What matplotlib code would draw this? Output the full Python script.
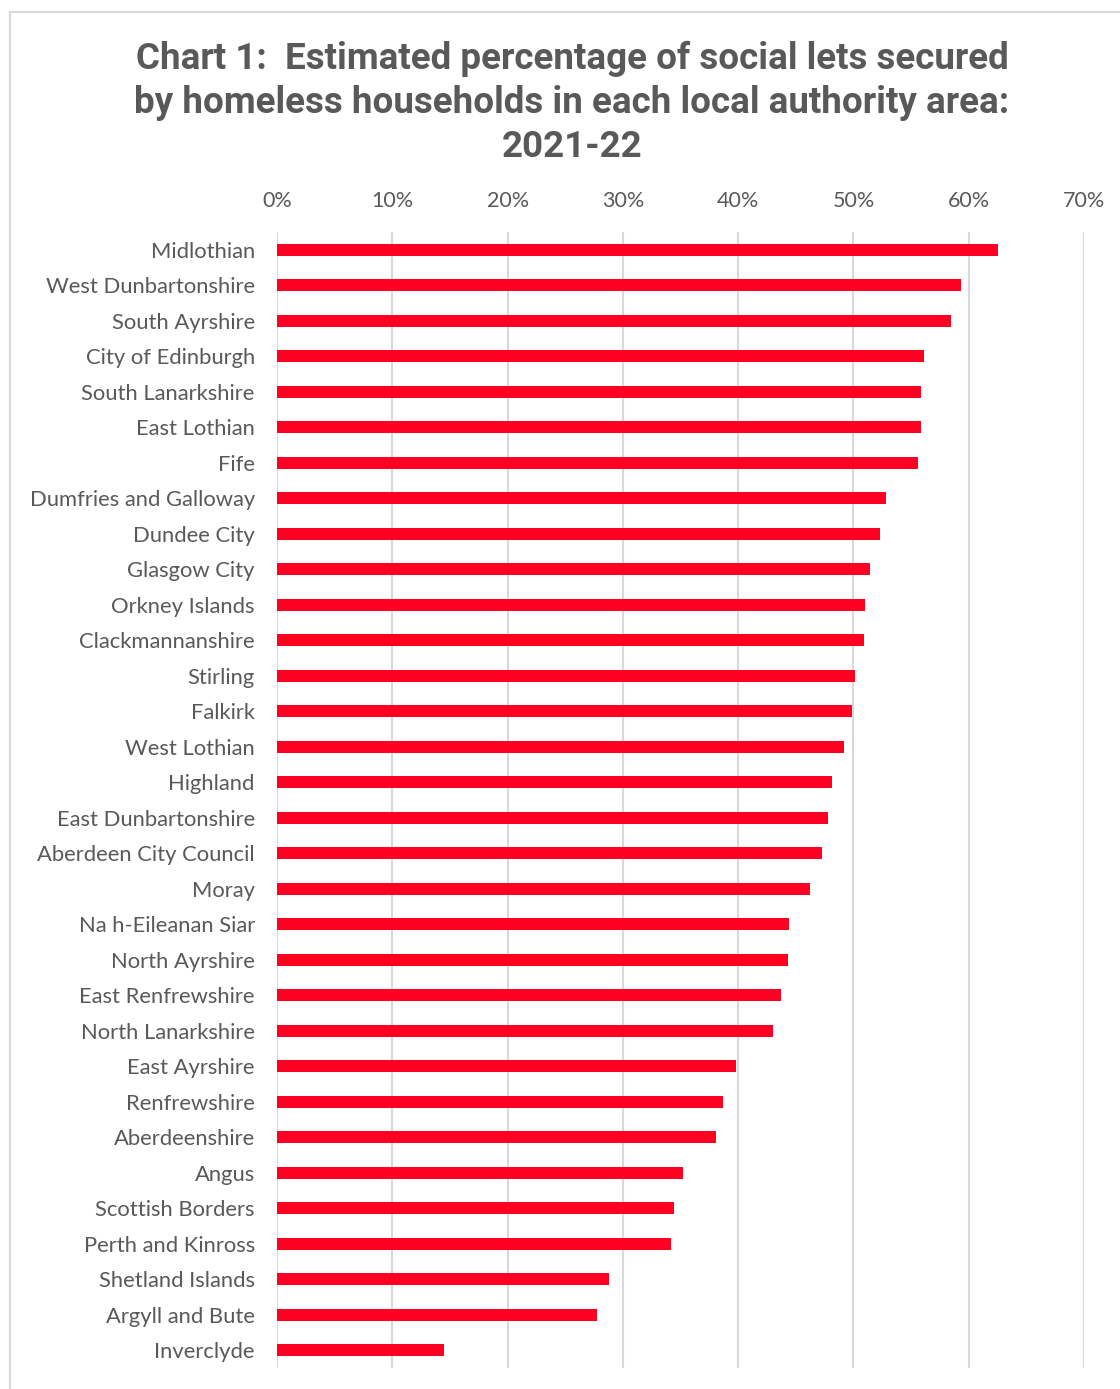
import matplotlib.pyplot as plt
from matplotlib.patches import Rectangle
from matplotlib.ticker import PercentFormatter

# local authority areas, top to bottom
areas = ["Midlothian", "West Dunbartonshire", "South Ayrshire", "City of Edinburgh",
         "South Lanarkshire", "East Lothian", "Fife", "Dumfries and Galloway",
         "Dundee City", "Glasgow City", "Orkney Islands", "Clackmannanshire",
         "Stirling", "Falkirk", "West Lothian", "Highland", "East Dunbartonshire",
         "Aberdeen City Council", "Moray", "Na h-Eileanan Siar", "North Ayrshire",
         "East Renfrewshire", "North Lanarkshire", "East Ayrshire", "Renfrewshire",
         "Aberdeenshire", "Angus", "Scottish Borders", "Perth and Kinross",
         "Shetland Islands", "Argyll and Bute", "Inverclyde"]
# share of social lets to homeless households (%)
pct = [62.5, 59.3, 58.5, 56.1, 55.9, 55.9, 55.6, 52.8, 52.3, 51.4, 51.0, 50.9,
       50.1, 49.9, 49.2, 48.1, 47.8, 47.3, 46.2, 44.4, 44.3, 43.7, 43.0, 39.8,
       38.7, 38.1, 35.2, 34.4, 34.2, 28.8, 27.8, 14.5]
xticks = [0, 10, 20, 30, 40, 50, 60, 70]

grey = "#595959"

fig = plt.figure(figsize=(11.2, 13.89), dpi=100)
ax = fig.add_axes([277/1120, 21/1389, (1084-277)/1120, (1368-232)/1389])

ypos = list(range(len(areas)))
ax.barh(ypos, pct, height=0.34, color="#ff0023", zorder=3)
ax.set_ylim(len(areas) - 0.5, -0.5)
ax.set_xlim(0, 70)
ax.set_yticks(ypos)
ax.set_yticklabels(areas, fontsize=15.8, color=grey, family="Lato")
ax.set_xticks(xticks)
ax.xaxis.set_major_formatter(PercentFormatter(decimals=0))
ax.xaxis.tick_top()
for lab in ax.get_xticklabels():
    lab.set_fontsize(15.5)
    lab.set_color(grey)
    lab.set_family("Lato")
ax.tick_params(axis="both", length=0)
ax.tick_params(axis="x", pad=15)
ax.tick_params(axis="y", pad=16)
ax.grid(axis="x", color="#d9d9d9", lw=1.5, zorder=0)
for s in ax.spines.values():
    s.set_visible(False)

# chart outline
fig.patches.append(Rectangle((10/1120, -0.05), 1.2, 1 - 12/1389 + 0.05,
                             transform=fig.transFigure, fill=False,
                             edgecolor="#d9d9d9", lw=1.5))

fig.text(572/1120, 1 - 103/1389,
         "Chart 1:  Estimated percentage of social lets secured\n"
         "by homeless households in each local authority area:\n2021-22",
         ha="center", va="center", fontsize=26.5, fontweight="bold",
         color=grey, family="Roboto", linespacing=1.28)

fig.savefig("out.png", dpi=100)
